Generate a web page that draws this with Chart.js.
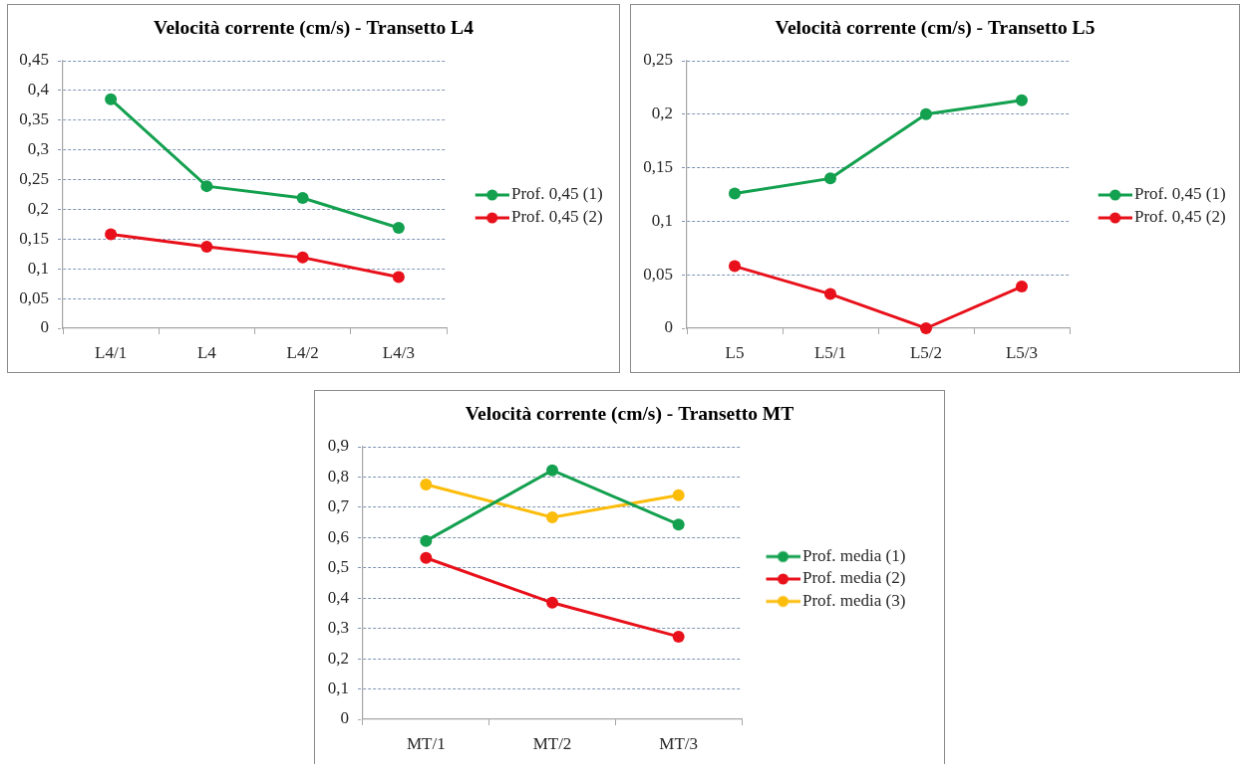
<!DOCTYPE html>
<html>
<head>
<meta charset="utf-8">
<script src="https://cdn.jsdelivr.net/npm/chart.js@4"></script>
<style>
  body { margin: 0; background: #fff; overflow: hidden; }
  canvas { position: absolute; border: 1px solid #8c8c8c; background: #fff; }
</style>
</head>
<body>
<canvas id="chartL4" width="613" height="369" style="left:7px; top:4px;"></canvas>
<canvas id="chartL5" width="610" height="369" style="left:630px; top:4px;"></canvas>
<canvas id="chartMT" width="631" height="378" style="left:314px; top:390px;"></canvas>
<script>
// transetto L4
var L4_CATS = ['L4/1', 'L4', 'L4/2', 'L4/3'];
var L4_P1 = [0.385, 0.239, 0.219, 0.169];
var L4_P2 = [0.158, 0.137, 0.119, 0.086];
var L4_TICKS = [0, 0.05, 0.1, 0.15, 0.2, 0.25, 0.3, 0.35, 0.4, 0.45];

// transetto L5
var L5_CATS = ['L5', 'L5/1', 'L5/2', 'L5/3'];
var L5_P1 = [0.126, 0.140, 0.200, 0.213];
var L5_P2 = [0.058, 0.032, 0.0, 0.039];
var L5_TICKS = [0, 0.05, 0.1, 0.15, 0.2, 0.25];

// transetto MT
var MT_CATS = ['MT/1', 'MT/2', 'MT/3'];
var MT_P1 = [0.589, 0.822, 0.643];
var MT_P2 = [0.533, 0.385, 0.273];
var MT_P3 = [0.775, 0.667, 0.740];
var MT_TICKS = [0, 0.1, 0.2, 0.3, 0.4, 0.5, 0.6, 0.7, 0.8, 0.9];

var green = '#13a04f';
var red = '#e8101a';
var yellow = '#fcbc0a';
var gridColor = '#7f95b3';
var axisColor = '#a6a6a6';
var textColor = '#262626';
var FONT = "'Liberation Serif', 'Times New Roman', serif";
var FS = 17;

function fmt(v) {
    return String(Number(v.toFixed(2))).replace('.', ',');
}

// legend sample: line with a dot, placed so the text starts at textX
function legendSample(color, lay) {
    var x0 = lay.plotRight + lay.legPad;
    var bw = lay.textX - x0 - FS / 2;
    var center = x0 + bw / 2;
    var sampleRight = lay.textX - 2.5;
    var w = Math.round(2 * (sampleRight - center));
    var c = document.createElement('canvas');
    c.width = w;
    c.height = 14;
    var g = c.getContext('2d');
    g.strokeStyle = color;
    g.lineWidth = 2.8;
    g.beginPath();
    g.moveTo(w - 34, 7);
    g.lineTo(w, 7);
    g.stroke();
    g.fillStyle = color;
    g.beginPath();
    g.arc(w - 17, 7, 5.5, 0, Math.PI * 2);
    g.fill();
    return {img: c, bw: bw};
}

function makeChart(id, title, cats, series, ticks, lay) {
    var samples = series.map(function(s) { return legendSample(s.color, lay); });
    var canvas = document.getElementById(id);
    var legendWidth = canvas.width - lay.plotRight;
    return new Chart(canvas.getContext('2d'), {
        type: 'line',
        data: {
            labels: cats,
            datasets: series.map(function(s) {
                return {
                    label: s.label,
                    data: s.data,
                    borderColor: s.color,
                    backgroundColor: s.color,
                    pointBackgroundColor: s.color,
                    pointBorderWidth: 0,
                    pointRadius: 6,
                    borderWidth: 3,
                    tension: 0,
                    clip: false
                };
            })
        },
        plugins: [{
            id: 'fixedLegend',
            afterInit: function(chart) {
                var lg = chart.legend;
                var fit = lg.fit;
                lg.fit = function() {
                    fit.call(this);
                    this.width = legendWidth;
                };
            }
        }],
        options: {
            responsive: false,
            animation: false,
            layout: {
                padding: 0
            },
            plugins: {
                title: {
                    display: true,
                    text: title,
                    color: '#000',
                    font: {family: FONT, size: 19.5, weight: 'bold', lineHeight: 1.2},
                    padding: {top: 12.3, bottom: 56 - 12.3 - 23.4}
                },
                legend: {
                    position: 'right',
                    title: {
                        display: lay.legTitle > 0,
                        text: '',
                        font: {size: 10, lineHeight: 1},
                        padding: (lay.legTitle - 10) / 2
                    },
                    labels: {
                        usePointStyle: true,
                        pointStyleWidth: samples[0].bw,
                        padding: lay.legPad,
                        color: textColor,
                        font: {family: FONT, size: FS},
                        generateLabels: function(chart) {
                            var items = Chart.defaults.plugins.legend.labels.generateLabels(chart);
                            items.forEach(function(it, i) { it.pointStyle = samples[i].img; });
                            return items;
                        }
                    }
                },
                tooltip: {enabled: false}
            },
            scales: {
                x: {
                    offset: true,
                    afterFit: function(s) { s.height = canvas.height - lay.plotBottom; },
                    grid: {
                        offset: true,
                        drawOnChartArea: false,
                        tickLength: 6,
                        tickColor: axisColor
                    },
                    border: {color: axisColor, width: 1.2},
                    ticks: {
                        color: textColor,
                        padding: 9,
                        maxRotation: 0,
                        autoSkip: false,
                        font: {family: FONT, size: FS}
                    }
                },
                y: {
                    min: ticks[0],
                    max: ticks[ticks.length - 1],
                    afterFit: function(s) { s.width = lay.plotLeft; },
                    afterBuildTicks: function(s) {
                        s.ticks = ticks.map(function(v) { return {value: v}; });
                    },
                    grid: {
                        // the zero line is the x axis itself, keep it solid grey
                        color: function(c) { return c.tick && c.tick.value === 0 ? 'rgba(0,0,0,0)' : gridColor; },
                        lineWidth: 1,
                        tickLength: 5,
                        tickColor: function(c) { return c.tick && c.tick.value === 0 ? axisColor : gridColor; },
                        tickBorderDash: [3, 2]
                    },
                    border: {color: axisColor, width: 1.2, dash: [3, 2]},
                    ticks: {
                        color: textColor,
                        padding: 9,
                        font: {family: FONT, size: FS},
                        callback: function(value) { return fmt(value); }
                    }
                }
            }
        }
    });
}

makeChart('chartL4', 'Velocità corrente (cm/s) - Transetto L4', L4_CATS, [
    {label: 'Prof. 0,45 (1)', data: L4_P1, color: green},
    {label: 'Prof. 0,45 (2)', data: L4_P2, color: red}
], L4_TICKS, {plotLeft: 55, plotRight: 440, plotBottom: 325, textX: 505, legPad: 6, legTitle: 36});

makeChart('chartL5', 'Velocità corrente (cm/s) - Transetto L5', L5_CATS, [
    {label: 'Prof. 0,45 (1)', data: L5_P1, color: green},
    {label: 'Prof. 0,45 (2)', data: L5_P2, color: red}
], L5_TICKS, {plotLeft: 56, plotRight: 440, plotBottom: 325, textX: 505, legPad: 6, legTitle: 36});

makeChart('chartMT', 'Velocità corrente (cm/s) - Transetto MT', MT_CATS, [
    {label: 'Prof. media (1)', data: MT_P1, color: green},
    {label: 'Prof. media (2)', data: MT_P2, color: red},
    {label: 'Prof. media (3)', data: MT_P3, color: yellow}
], MT_TICKS, {plotLeft: 48, plotRight: 428, plotBottom: 330, textX: 489, legPad: 5.5, legTitle: 0});
</script>
</body>
</html>
